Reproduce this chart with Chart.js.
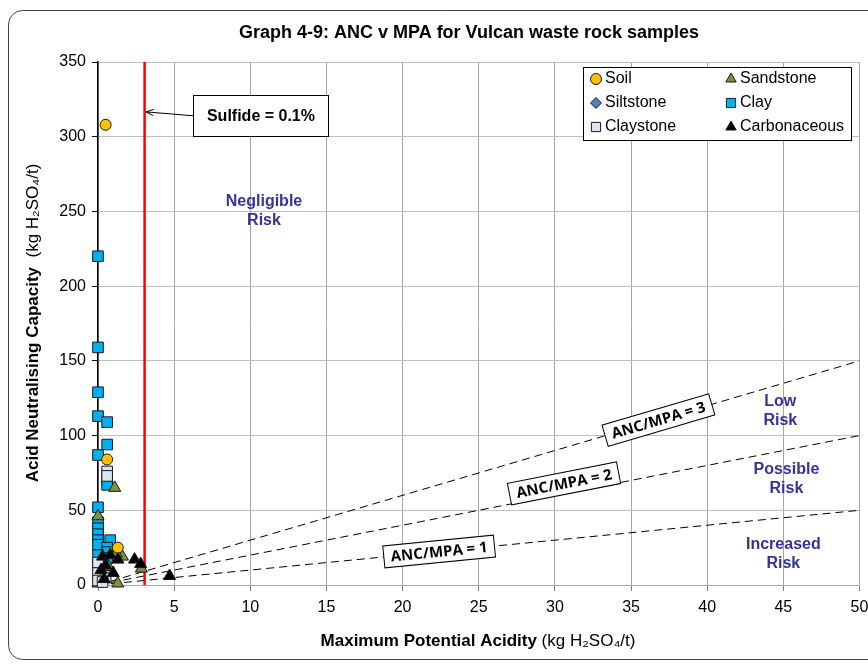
<!DOCTYPE html>
<html>
<head>
<meta charset="utf-8">
<script src="https://cdn.jsdelivr.net/npm/chart.js@4/dist/chart.umd.min.js"></script>
<style>
  html, body { margin: 0; padding: 0; background: #fff; }
  #wrap { width: 868px; height: 666px; position: relative; }
</style>
</head>
<body>
<div id="wrap"><canvas id="chart" width="868" height="666"></canvas></div>
<script>
// MPA (x) and ANC (y), kg H2SO4/t
const soil = [[0.5, 308], [0.6, 84], [1.3, 25]];
const sandstone = [[1.1, 65], [0.0, 46], [1.6, 19], [1.2, 21], [2.85, 11], [0.0, 1], [1.3, 1], [0.7, 12]];
const siltstone = [[0.2, 6]];
const clay = [
  [0, 220], [0, 159], [0, 129], [0, 113], [0.6, 109], [0.6, 94], [0, 87],
  [0.6, 70], [0.6, 67], [0, 52], [0, 42], [0, 38], [0, 34], [0, 30], [0.8, 30],
  [0, 27], [0.6, 25], [0.6, 22], [0, 20], [0.6, 18], [0, 14]
];
const claystone = [[0.6, 76], [0.6, 73], [0, 15], [0, 8], [0.5, 5], [0, 3], [0.3, 2]];
const carbonaceous = [
  [0.3, 19], [0.8, 20], [1.3, 17], [0.2, 10], [1.0, 8], [0.5, 13],
  [2.4, 17], [2.8, 14], [4.7, 6], [0.4, 4]
];

const ratios = [1, 2, 3];
const sulfideMPA = 3.06; // 0.1% S x 30.6
const xTicks = { min: 0, max: 50, step: 5 };
const yTicks = { min: 0, max: 350, step: 50 };

const riskLabels = [
  { lines: ['Negligible', 'Risk'], x: 10.9, y: 250 },
  { lines: ['Low', 'Risk'], x: 44.8, y: 116.5 },
  { lines: ['Possible', 'Risk'], x: 45.2, y: 71 },
  { lines: ['Increased', 'Risk'], x: 45.0, y: 20.7 }
];
// where each ANC/MPA box sits (data units)
const ratioLabelPos = { 1: [22.4, 22.4], 2: [30.6, 68], 3: [36.8, 110.4] };

const toXY = arr => arr.map(p => ({ x: p[0], y: p[1] }));

const series = [
  { label: 'Soil', data: soil, style: 'circle', r: 5.5, bg: '#FFC000', order: 2 },
  { label: 'Sandstone', data: sandstone, style: 'triangle', r: 7, bg: '#77933C', order: 4 },
  { label: 'Siltstone', data: siltstone, style: 'rectRot', r: 6, bg: '#4F81BD', order: 5 },
  { label: 'Clay', data: clay, style: 'rect', r: 7.5, bg: '#00B0F0', order: 6 },
  { label: 'Claystone', data: claystone, style: 'rect', r: 7.5, bg: '#DCE6F2', order: 3 },
  { label: 'Carbonaceous', data: carbonaceous, style: 'triangle', r: 7, bg: '#000000', order: 1 }
];

const datasets = series.map(s => ({
  type: 'scatter',
  label: s.label,
  data: toXY(s.data),
  pointStyle: s.style,
  pointRadius: s.r,
  pointBackgroundColor: s.bg,
  pointBorderColor: '#1a1a1a',
  pointBorderWidth: 1,
  clip: false,
  order: s.order
}));

ratios.forEach(k => {
  datasets.push({
    type: 'line',
    label: 'ANC/MPA = ' + k,
    data: [{ x: 0, y: 0 }, { x: xTicks.max, y: k * xTicks.max }],
    borderColor: '#000',
    borderWidth: 1,
    borderDash: [8, 5],
    pointRadius: 0,
    order: 10
  });
});
datasets.push({
  type: 'line',
  label: 'Sulfide = 0.1%',
  data: [{ x: sulfideMPA, y: yTicks.min }, { x: sulfideMPA, y: yTicks.max }],
  borderColor: '#FF0000',
  borderWidth: 2.5,
  pointRadius: 0,
  order: 9
});

const FONT = '"Liberation Sans", Arial, sans-serif';

// frame, titles, legend, annotations
const decor = {
  id: 'decor',
  beforeDraw(chart) {
    const ctx = chart.ctx;
    ctx.save();
    ctx.fillStyle = '#fff';
    ctx.fillRect(0, 0, chart.width, chart.height);
    ctx.beginPath();
    ctx.roundRect(8.5, 10.5, 900, 649, 14);
    ctx.strokeStyle = '#404040';
    ctx.lineWidth = 1;
    ctx.stroke();
    ctx.restore();
  },
  afterDraw(chart) {
    const ctx = chart.ctx;
    const xs = chart.scales.x, ys = chart.scales.y;
    ctx.save();

    // title
    ctx.fillStyle = '#000';
    ctx.font = 'bold 18px ' + FONT;
    ctx.textAlign = 'center';
    ctx.textBaseline = 'middle';
    ctx.fillText('Graph 4-9: ANC v MPA for Vulcan waste rock samples', 469, 33);

    // axis titles, bold part + normal part
    const mixed = (bold, normal, cx, cy, rot) => {
      ctx.save();
      ctx.translate(cx, cy);
      ctx.rotate(rot);
      ctx.font = 'bold 17px ' + FONT;
      const wb = ctx.measureText(bold).width;
      ctx.font = '17px ' + FONT;
      const wn = ctx.measureText(normal).width;
      let x0 = -(wb + wn) / 2;
      ctx.textAlign = 'left';
      ctx.textBaseline = 'middle';
      ctx.font = 'bold 17px ' + FONT;
      ctx.fillText(bold, x0, 0);
      ctx.font = '17px ' + FONT;
      ctx.fillText(normal, x0 + wb, 0);
      ctx.restore();
    };
    mixed('Maximum Potential Acidity', ' (kg H\u2082SO\u2084/t)', 478, 641, 0);
    mixed('Acid Neutralising Capacity', '  (kg H\u2082SO\u2084/t)', 33, 323, -Math.PI / 2);

    // risk zone labels
    ctx.fillStyle = '#333399';
    ctx.font = 'bold 16px ' + FONT;
    ctx.textAlign = 'center';
    riskLabels.forEach(l => {
      const px = xs.getPixelForValue(l.x), py = ys.getPixelForValue(l.y);
      l.lines.forEach((t, i) => ctx.fillText(t, px, py + (i - (l.lines.length - 1) / 2) * 19));
    });

    // ANC/MPA ratio labels along the dashed lines
    ratios.forEach(k => {
      const pos = ratioLabelPos[k];
      const px = xs.getPixelForValue(pos[0]), py = ys.getPixelForValue(pos[1]);
      const ang = Math.atan2(ys.getPixelForValue(k * xTicks.max) - ys.getPixelForValue(0),
        xs.getPixelForValue(xTicks.max) - xs.getPixelForValue(0));
      const txt = 'ANC/MPA = ' + k;
      ctx.save();
      ctx.translate(px, py);
      ctx.rotate(ang);
      ctx.font = 'bold 15px "Open Sans", ' + FONT;
      const w = ctx.measureText(txt).width + 14, h = 22;
      ctx.fillStyle = '#fff';
      ctx.fillRect(-w / 2, -h / 2, w, h);
      ctx.strokeStyle = '#000';
      ctx.lineWidth = 1;
      ctx.strokeRect(-w / 2, -h / 2, w, h);
      ctx.fillStyle = '#000';
      ctx.textAlign = 'center';
      ctx.textBaseline = 'middle';
      ctx.fillText(txt, 0, 1);
      ctx.restore();
    });

    // sulfide callout with arrow
    const bx = xs.getPixelForValue(10.7), by = ys.getPixelForValue(314);
    const bw = 135, bh = 41;
    const tipX = xs.getPixelForValue(sulfideMPA + 0.1), tipY = ys.getPixelForValue(316.6);
    ctx.strokeStyle = '#000';
    ctx.lineWidth = 1;
    ctx.beginPath();
    ctx.moveTo(bx - bw / 2, by);
    ctx.lineTo(tipX, tipY);
    ctx.stroke();
    const a = Math.atan2(tipY - by, tipX - (bx - bw / 2));
    ctx.beginPath();
    ctx.moveTo(tipX, tipY);
    ctx.lineTo(tipX - 8 * Math.cos(a - 0.4), tipY - 8 * Math.sin(a - 0.4));
    ctx.moveTo(tipX, tipY);
    ctx.lineTo(tipX - 8 * Math.cos(a + 0.4), tipY - 8 * Math.sin(a + 0.4));
    ctx.stroke();
    ctx.fillStyle = '#fff';
    ctx.fillRect(bx - bw / 2, by - bh / 2, bw, bh);
    ctx.strokeRect(Math.round(bx - bw / 2) + 0.5, Math.round(by - bh / 2) + 0.5, bw, bh);
    ctx.fillStyle = '#000';
    ctx.font = 'bold 16px ' + FONT;
    ctx.textAlign = 'center';
    ctx.textBaseline = 'middle';
    ctx.fillText('Sulfide = 0.1%', bx, by + 1);

    // legend box
    const lx = 583.5, ly = 67.5, lw = 268, lh = 73;
    ctx.fillStyle = '#fff';
    ctx.fillRect(lx, ly, lw, lh);
    ctx.strokeRect(lx, ly, lw, lh);
    ctx.font = '16px ' + FONT;
    ctx.textAlign = 'left';
    ctx.textBaseline = 'middle';
    series.forEach((s, i) => {
      const col = i % 2, row = Math.floor(i / 2);
      const mx = col === 0 ? 596 : 731;
      const my = 79 + row * 24;
      ctx.fillStyle = s.bg;
      ctx.strokeStyle = '#1a1a1a';
      Chart.helpers.drawPoint(ctx, {
        pointStyle: s.style,
        radius: s.style === 'rect' ? 6.5 : (s.style === 'triangle' ? 6 : 5.5),
        borderWidth: 1,
        rotation: 0
      }, mx, my);
      ctx.fillStyle = '#000';
      ctx.fillText(s.label, mx + 9, my);
    });

    ctx.restore();
  }
};

new Chart(document.getElementById('chart'), {
  data: { datasets },
  options: {
    responsive: false,
    animation: false,
    layout: { padding: { left: 56, right: 2, top: 62, bottom: 41 } },
    plugins: {
      legend: { display: false },
      title: { display: false },
      tooltip: { enabled: false }
    },
    scales: {
      x: {
        type: 'linear',
        min: xTicks.min,
        max: xTicks.max,
        ticks: {
          stepSize: xTicks.step,
          color: '#000',
          font: { family: FONT, size: 16 },
          padding: 7,
          maxRotation: 0
        },
        grid: { color: '#A6A6A6', lineWidth: 1, tickLength: 6, tickColor: '#808080' },
        border: { color: '#A6A6A6', width: 1 },
        afterFit(scale) { scale.height = 40; scale.paddingRight = 0; scale.paddingLeft = 0; }
      },
      y: {
        type: 'linear',
        min: yTicks.min,
        max: yTicks.max,
        ticks: {
          stepSize: yTicks.step,
          color: '#000',
          font: { family: FONT, size: 16 },
          padding: 6
        },
        grid: { color: '#BFBFBF', lineWidth: 1, tickLength: 6, tickColor: '#000' },
        border: { color: '#000', width: 1.5 },
        afterFit(scale) { scale.width = 42; }
      }
    }
  },
  plugins: [decor]
});
</script>
</body>
</html>
